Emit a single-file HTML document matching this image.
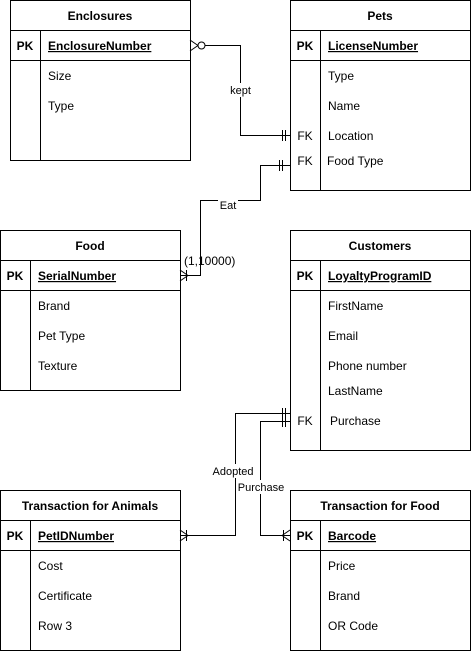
<!DOCTYPE html>
<html><head><style>
body{margin:0;background:#fff}
svg{display:block}
text{font-family:"Liberation Sans",Arial,sans-serif;font-size:12px;fill:#000}
.b{font-weight:bold}
</style></head><body>
<svg width="471" height="651" viewBox="0 0 471 651" xmlns="http://www.w3.org/2000/svg">
<g fill="none" stroke="#000" stroke-width="1">
<!-- Enclosures -->
<rect x="10.5" y="0.5" width="180" height="160"/>
<line x1="10" y1="30.5" x2="190" y2="30.5"/><line x1="10" y1="60.5" x2="190" y2="60.5"/><line x1="40.5" y1="30" x2="40.5" y2="160"/>
<!-- Pets -->
<rect x="290.5" y="0.5" width="180" height="190"/>
<line x1="290" y1="30.5" x2="470" y2="30.5"/><line x1="290" y1="60.5" x2="470" y2="60.5"/><line x1="320.5" y1="30" x2="320.5" y2="190"/>
<!-- Food -->
<rect x="0.5" y="230.5" width="180" height="160"/>
<line x1="0" y1="260.5" x2="180" y2="260.5"/><line x1="0" y1="290.5" x2="180" y2="290.5"/><line x1="30.5" y1="260" x2="30.5" y2="390"/>
<!-- Customers -->
<rect x="290.5" y="230.5" width="180" height="220"/>
<line x1="290" y1="260.5" x2="470" y2="260.5"/><line x1="290" y1="290.5" x2="470" y2="290.5"/><line x1="320.5" y1="260" x2="320.5" y2="450"/>
<!-- TA -->
<rect x="0.5" y="490.5" width="180" height="160"/>
<line x1="0" y1="520.5" x2="180" y2="520.5"/><line x1="0" y1="550.5" x2="180" y2="550.5"/><line x1="30.5" y1="520" x2="30.5" y2="651"/>
<!-- TF -->
<rect x="290.5" y="490.5" width="180" height="160"/>
<line x1="290" y1="520.5" x2="470" y2="520.5"/><line x1="290" y1="550.5" x2="470" y2="550.5"/><line x1="320.5" y1="520" x2="320.5" y2="651"/>

<!-- kept -->
<polyline points="205,45.5 240.5,45.5 240.5,135.5 290,135.5"/>
<line x1="190" y1="40" x2="198" y2="45.5"/><line x1="190" y1="51" x2="198" y2="45.5"/>
<circle cx="201.5" cy="45.5" r="3.5" fill="#fff"/>
<line x1="282.5" y1="130" x2="282.5" y2="141"/><line x1="285.5" y1="130" x2="285.5" y2="141"/>
<!-- Eat -->
<polyline points="290,165.5 260.5,165.5 260.5,200.5 200.5,200.5 200.5,275.5 180,275.5"/>
<line x1="279.5" y1="160" x2="279.5" y2="171"/><line x1="282.5" y1="160" x2="282.5" y2="171"/>
<line x1="186.5" y1="270" x2="186.5" y2="281"/>
<line x1="180" y1="270" x2="188" y2="275.5"/><line x1="180" y1="281" x2="188" y2="275.5"/>
<!-- Adopted -->
<polyline points="290,413.5 235.5,413.5 235.5,535.5 180,535.5"/>
<line x1="282.5" y1="408" x2="282.5" y2="419"/><line x1="285.5" y1="408" x2="285.5" y2="419"/>
<line x1="186.5" y1="530" x2="186.5" y2="541"/>
<line x1="180" y1="530" x2="188" y2="535.5"/><line x1="180" y1="541" x2="188" y2="535.5"/>
<!-- Purchase -->
<polyline points="290,421.5 260.5,421.5 260.5,535.5 290,535.5"/>
<line x1="282.5" y1="416" x2="282.5" y2="427"/><line x1="285.5" y1="416" x2="285.5" y2="427"/>
<line x1="283.5" y1="530" x2="283.5" y2="541"/>
<line x1="290" y1="530" x2="282" y2="535.5"/><line x1="290" y1="541" x2="282" y2="535.5"/>
</g>
<!-- label backgrounds -->
<rect x="228" y="83" width="25" height="14" fill="#fff"/>
<rect x="218" y="194" width="20" height="14" fill="#fff"/>
<rect x="212" y="464" width="42" height="14" fill="#fff"/>
<rect x="237" y="480" width="48" height="14" fill="#fff"/>

<text class="b" x="100" y="20" text-anchor="middle">Enclosures</text>
<text class="b" x="25" y="50" text-anchor="middle">PK</text>
<text class="b" x="48" y="50" text-decoration="underline">EnclosureNumber</text>
<text x="48" y="80">Size</text><text x="48" y="110">Type</text>

<text class="b" x="380" y="20" text-anchor="middle">Pets</text>
<text class="b" x="305" y="50" text-anchor="middle">PK</text>
<text class="b" x="328" y="50" text-decoration="underline">LicenseNumber</text>
<text x="328" y="80">Type</text><text x="328" y="110">Name</text>
<text x="305" y="140" text-anchor="middle">FK</text><text x="328" y="140">Location</text>
<text x="305" y="165" text-anchor="middle">FK</text><text x="327" y="165">Food Type</text>

<text class="b" x="90" y="250" text-anchor="middle">Food</text>
<text class="b" x="15" y="280" text-anchor="middle">PK</text>
<text class="b" x="38" y="280" text-decoration="underline">SerialNumber</text>
<text x="38" y="310">Brand</text><text x="38" y="340">Pet Type</text><text x="38" y="370">Texture</text>

<text class="b" x="380" y="250" text-anchor="middle">Customers</text>
<text class="b" x="305" y="280" text-anchor="middle">PK</text>
<text class="b" x="328" y="280" text-decoration="underline">LoyaltyProgramID</text>
<text x="328" y="310">FirstName</text><text x="328" y="340">Email</text><text x="328" y="370">Phone number</text>
<text x="328" y="395">LastName</text>
<text x="305" y="425" text-anchor="middle">FK</text><text x="330" y="425">Purchase</text>

<text class="b" x="90" y="510" text-anchor="middle">Transaction for Animals</text>
<text class="b" x="15" y="540" text-anchor="middle">PK</text>
<text class="b" x="38" y="540" text-decoration="underline">PetIDNumber</text>
<text x="38" y="570">Cost</text><text x="38" y="600">Certificate</text><text x="38" y="630">Row 3</text>

<text class="b" x="380" y="510" text-anchor="middle">Transaction for Food</text>
<text class="b" x="305" y="540" text-anchor="middle">PK</text>
<text class="b" x="328" y="540" text-decoration="underline">Barcode</text>
<text x="328" y="570">Price</text><text x="328" y="600">Brand</text><text x="328" y="630">OR Code</text>

<text x="240.5" y="94" text-anchor="middle" style="font-size:11px">kept</text>
<text x="228" y="209" text-anchor="middle" style="font-size:11px">Eat</text>
<text x="184" y="265" style="font-size:12px">(1,10000)</text>
<text x="233" y="475" text-anchor="middle" style="font-size:11px">Adopted</text>
<text x="261" y="491" text-anchor="middle" style="font-size:11px">Purchase</text>
</svg>
</body></html>
